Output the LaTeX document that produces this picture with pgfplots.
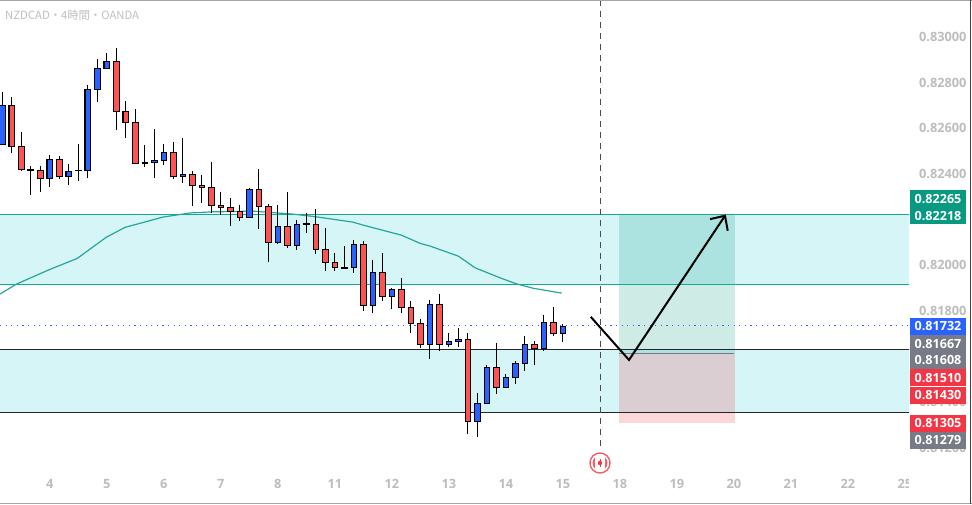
\documentclass[border=0pt]{standalone}
\usepackage{pgfplots}
\pgfplotsset{compat=1.18}
\usepackage{fontspec}
\setmainfont{Open Sans}
\newfontfamily\cjk{Noto Sans CJK JP}
\definecolor{cred}{HTML}{FF5252}
\definecolor{cblue}{HTML}{2962FF}
\definecolor{band}{HTML}{D6F5F7}
\definecolor{teal1}{HTML}{14AB94}
\definecolor{ma}{HTML}{26A69A}
\definecolor{tick}{HTML}{BDBDBD}
\definecolor{tvg}{HTML}{089981}
\definecolor{tvr}{HTML}{F23645}
\definecolor{tagg}{HTML}{787B86}
% index, high, body top, body bottom, low, colour
\newcommand{\candle}[6]{%
  \addplot[forget plot, black, line width=1.1pt] coordinates {(#1,#2) (#1,#5)};%
  \pgfmathsetmacro\xl{#1-0.29}\pgfmathsetmacro\xr{#1+0.29}%
  \edef\temp{\noexpand\addplot[forget plot, draw=black, line width=1.1pt, fill=#6] coordinates {(\xl,#3) (\xr,#3) (\xr,#4) (\xl,#4)} -- cycle;}\temp}
\newcommand{\ptag}[2]{%
  \node[anchor=center, text=white, font=\fontsize{12.6}{12.6}\selectfont\bfseries, inner sep=0pt] at (938pt,#1pt) {#2};}
\begin{document}
\begin{tikzpicture}[x=1pt,y=1pt]
\useasboundingbox (0,0) rectangle (972,504);
\begin{axis}[
  at={(0pt,26pt)}, anchor=south west,
  scale only axis, width=909pt, height=478pt,
  xmin=-0.242, xmax=95.44, ymin=0.81064, ymax=0.83158,
  clip=true,
  axis x line*=bottom, axis y line*=right,
  axis line style={draw=none},
  major tick length=0pt,
  xtick={5,11,17,23,29,35,41,47,53,59,65,71,77,83,89,95},
  xticklabels={4,5,6,7,8,11,12,13,14,15,18,19,20,21,22,25},
  ytick={0.812,0.814,0.818,0.82,0.824,0.826,0.828,0.83},
  yticklabels={0.81200,0.81400,0.81800,0.82000,0.82400,0.82600,0.82800,0.83000},
  tick label style={text=tick, font=\fontsize{12.8}{12.8}\selectfont\bfseries},
  y tick label style={anchor=west, xshift=6.5pt, yshift=-1pt},
  x tick label style={anchor=center, yshift=-6pt},
]
% zones
\addplot[forget plot, draw=none, fill=band] coordinates {(-1,0.82219) (97,0.82219) (97,0.81913) (-1,0.81913)} -- cycle;
\addplot[forget plot, draw=none, fill=band] coordinates {(-1,0.81628) (97,0.81628) (97,0.81352) (-1,0.81352)} -- cycle;
% position tool
\addplot[forget plot, draw=none, fill=tvg, fill opacity=0.2] coordinates {(64.92,0.82218) (77.09,0.82218) (77.09,0.81608) (64.92,0.81608)} -- cycle;
\addplot[forget plot, draw=none, fill=tvr, fill opacity=0.2] coordinates {(64.92,0.81608) (77.09,0.81608) (77.09,0.81305) (64.92,0.81305)} -- cycle;
\addplot[forget plot, tagg, line width=1pt] coordinates {(64.92,0.81608) (77.0,0.81608)};
% zone lines
\addplot[forget plot, teal1, line width=1.1pt] coordinates {(-1,0.82219) (97,0.82219)};
\addplot[forget plot, teal1, line width=1.1pt] coordinates {(-1,0.81913) (97,0.81913)};
\addplot[forget plot, black!85, line width=1pt] coordinates {(-1,0.81628) (97,0.81628)};
\addplot[forget plot, black!85, line width=1pt] coordinates {(-1,0.81352) (97,0.81352)};
% last price
\addplot[forget plot, cblue, line width=1pt, dash pattern=on 1.2pt off 4.4pt] coordinates {(-0.24,0.81732) (95.4,0.81732)};
% session line
\addplot[forget plot, black!70, line width=1pt, dash pattern=on 6pt off 5pt] coordinates {(62.95,0.83158) (62.95,0.81200)};
% moving average
\addplot[forget plot, ma, line width=1.2pt] coordinates {
(-0.24,0.81870) (1.52,0.81914) (5.02,0.81978) (7.89,0.82026)
(10.92,0.82118) (12.92,0.82162) (16.92,0.82207) (19.76,0.82225)
(22.18,0.82230) (26.39,0.82233) (30.6,0.82220) (32.9,0.82209) (36.9,0.82185)
(37.97,0.82172) (42.0,0.82128) (43.97,0.82092) (45.02,0.82080) (48.0,0.82036)
(49.76,0.81985) (52.39,0.81941) (54.15,0.81914) (55.9,0.81895) (58.88,0.81874)};
% candles
\candle{0}{0.82755}{0.82696}{0.82526}{0.82526}{cblue}
\candle{1}{0.82733}{0.82696}{0.82517}{0.82488}{cred}
\candle{2}{0.82580}{0.82517}{0.82416}{0.82410}{cred}
\candle{3}{0.82431}{0.82415}{0.82412}{0.82304}{black}
\candle{4}{0.82431}{0.82412}{0.82375}{0.82317}{cred}
\candle{5}{0.82479}{0.82460}{0.82375}{0.82339}{cblue}
\candle{6}{0.82475}{0.82460}{0.82384}{0.82374}{cred}
\candle{7}{0.82440}{0.82408}{0.82384}{0.82348}{cblue}
\candle{8}{0.82527}{0.82412}{0.82410}{0.82365}{black}
\candle{9}{0.82786}{0.82767}{0.82410}{0.82378}{cblue}
\candle{10}{0.82899}{0.82859}{0.82767}{0.82711}{cblue}
\candle{11}{0.82926}{0.82889}{0.82859}{0.82859}{cblue}
\candle{12}{0.82948}{0.82889}{0.82670}{0.82588}{cred}
\candle{13}{0.82715}{0.82670}{0.82622}{0.82553}{cred}
\candle{14}{0.82680}{0.82622}{0.82442}{0.82442}{cred}
\candle{15}{0.82522}{0.82447}{0.82441}{0.82428}{black}
\candle{16}{0.82593}{0.82456}{0.82447}{0.82378}{cblue}
\candle{17}{0.82527}{0.82491}{0.82456}{0.82435}{cblue}
\candle{18}{0.82536}{0.82491}{0.82385}{0.82374}{cred}
\candle{19}{0.82553}{0.82394}{0.82385}{0.82356}{cblue}
\candle{20}{0.82409}{0.82394}{0.82346}{0.82255}{cred}
\candle{21}{0.82391}{0.82346}{0.82337}{0.82269}{cred}
\candle{22}{0.82448}{0.82337}{0.82258}{0.82226}{cred}
\candle{23}{0.82317}{0.82258}{0.82250}{0.82216}{cred}
\candle{24}{0.82290}{0.82250}{0.82232}{0.82168}{cred}
\candle{25}{0.82260}{0.82232}{0.82206}{0.82190}{cred}
\candle{26}{0.82335}{0.82329}{0.82206}{0.82206}{cblue}
\candle{27}{0.82417}{0.82329}{0.82254}{0.82155}{cred}
\candle{28}{0.82264}{0.82254}{0.82096}{0.82011}{cred}
\candle{29}{0.82260}{0.82166}{0.82096}{0.82089}{cblue}
\candle{30}{0.82315}{0.82166}{0.82083}{0.82073}{cred}
\candle{31}{0.82194}{0.82175}{0.82083}{0.82063}{cblue}
\candle{32}{0.82225}{0.82177}{0.82174}{0.82138}{black}
\candle{33}{0.82242}{0.82175}{0.82066}{0.82047}{cred}
\candle{34}{0.82158}{0.82066}{0.82009}{0.81972}{cred}
\candle{35}{0.82048}{0.82009}{0.81987}{0.81972}{cred}
\candle{36}{0.82079}{0.81987}{0.81984}{0.81981}{black}
\candle{37}{0.82106}{0.82088}{0.81987}{0.81963}{cblue}
\candle{38}{0.82101}{0.82088}{0.81821}{0.81797}{cred}
\candle{39}{0.82019}{0.81965}{0.81821}{0.81788}{cblue}
\candle{40}{0.82048}{0.81965}{0.81860}{0.81841}{cred}
\candle{41}{0.81895}{0.81891}{0.81860}{0.81806}{cblue}
\candle{42}{0.81940}{0.81891}{0.81812}{0.81788}{cred}
\candle{43}{0.81840}{0.81812}{0.81742}{0.81701}{cred}
\candle{44}{0.81761}{0.81742}{0.81650}{0.81632}{cred}
\candle{45}{0.81844}{0.81825}{0.81650}{0.81586}{cblue}
\candle{46}{0.81870}{0.81825}{0.81650}{0.81622}{cred}
\candle{47}{0.81699}{0.81663}{0.81650}{0.81639}{cblue}
\candle{48}{0.81721}{0.81672}{0.81663}{0.81639}{cblue}
\candle{49}{0.81699}{0.81672}{0.81312}{0.81257}{cred}
\candle{50}{0.81436}{0.81391}{0.81312}{0.81245}{cblue}
\candle{51}{0.81559}{0.81549}{0.81391}{0.81391}{cblue}
\candle{52}{0.81655}{0.81549}{0.81461}{0.81432}{cred}
\candle{53}{0.81518}{0.81505}{0.81461}{0.81461}{cblue}
\candle{54}{0.81577}{0.81566}{0.81505}{0.81476}{cblue}
\candle{55}{0.81686}{0.81650}{0.81566}{0.81533}{cblue}
\candle{56}{0.81664}{0.81650}{0.81632}{0.81559}{cred}
\candle{57}{0.81778}{0.81746}{0.81632}{0.81622}{cblue}
\candle{58}{0.81813}{0.81746}{0.81698}{0.81686}{cred}
\candle{59}{0.81739}{0.81729}{0.81698}{0.81660}{cblue}
% hand drawn path
\addplot[forget plot, black, line width=2pt, line join=miter] coordinates {(61.94,0.81770) (65.97,0.81581) (76.07,0.82213)};
\addplot[forget plot, black, line width=2pt, line join=miter] coordinates {(74.5,0.82198) (76.07,0.82213) (76.36,0.82147)};
\end{axis}
% the time scale ends where the pane ends
\fill[white] (909,1) rectangle (969,26);
% frame
\fill[black!35] (0,502.8) rectangle (972,504);
\fill[black!35] (0,0) rectangle (972,1.2);
\fill[black!75] (969.5,0) rectangle (971,504);
% title
\node[anchor=west, inner sep=0pt, text=black!25, font=\fontsize{11.3}{11.3}\selectfont\cjk] at (5,489) {NZDCAD・4時間・OANDA};
% price tags (y measured from the bottom: 504 - px)
\fill[tvg] (910,314) rectangle (966,280.3);
\fill[cblue] (910,186) rectangle (966,169);
\fill[tagg] (910,169) rectangle (966,134.7);
\fill[tvr] (910,134.7) rectangle (966,118);
\fill[tvr] (910,117.3) rectangle (966,100.3);
\fill[tvr] (910,89) rectangle (966,72.3);
\fill[tagg] (910,72.3) rectangle (966,55);
\ptag{305}{0.82265}
\ptag{288.3}{0.82218}
\ptag{177.5}{0.81732}
\ptag{160.3}{0.81667}
\ptag{143.7}{0.81608}
\ptag{126.3}{0.81510}
\ptag{109}{0.81430}
\ptag{80.7}{0.81305}
\ptag{63.7}{0.81279}
% event icon
\begin{scope}
\fill[white] (600,41) circle (11.5);
\draw[tvr!80, line width=1.4pt] (600,41) circle (10);
\clip (600,41) circle (7.5);
\fill[tvr!80] (590,31) rectangle (594.6,51);
\fill[tvr!80] (605.4,31) rectangle (610,51);
\fill[tvr] (600,41) circle (2.2);
\fill[tvr] (599.5,37) rectangle (600.5,45);
\end{scope}
\end{tikzpicture}
\end{document}
